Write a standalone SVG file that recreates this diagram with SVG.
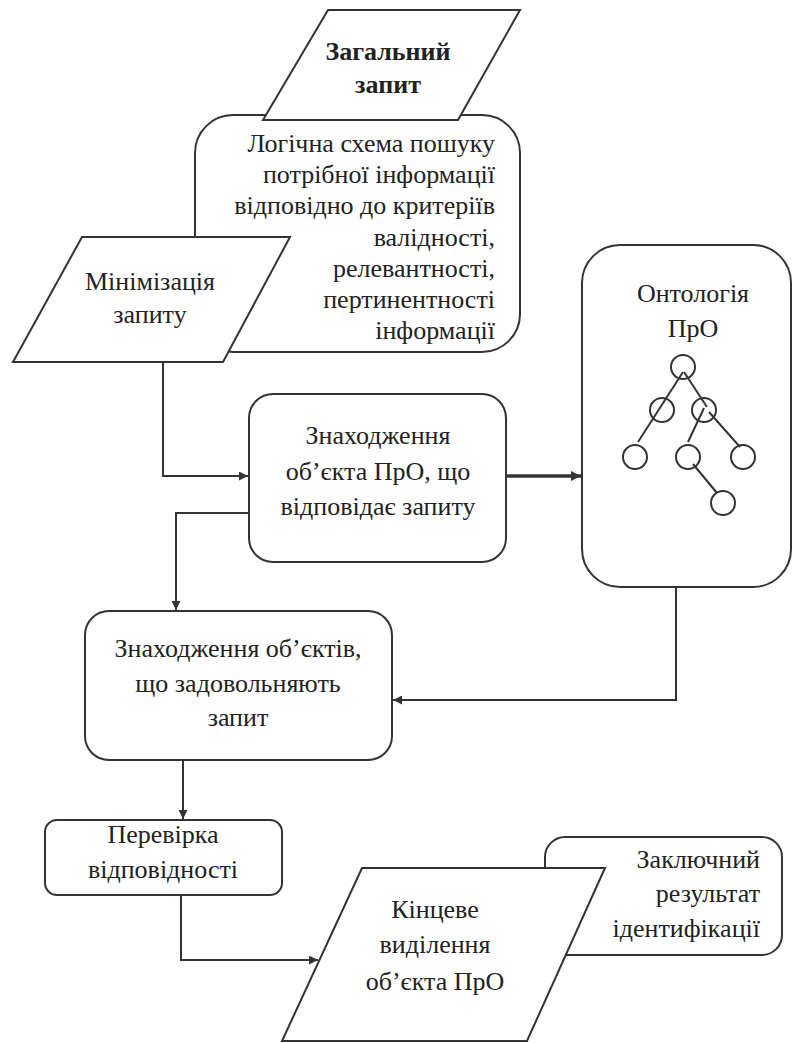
<svg xmlns="http://www.w3.org/2000/svg" width="795" height="1043" viewBox="0 0 795 1043">
<defs>
<marker id="arr" viewBox="0 0 10 10" refX="10" refY="5" markerWidth="10" markerHeight="9" markerUnits="userSpaceOnUse" orient="auto">
<path d="M0,0 L10,5 L0,10 Z" fill="#333"/>
</marker>
<marker id="arrT" viewBox="0 0 10 10" refX="10" refY="5" markerWidth="11" markerHeight="10" markerUnits="userSpaceOnUse" orient="auto">
<path d="M0,0 L10,5 L0,10 Z" fill="#333"/>
</marker>
</defs>

<g id="logic-scheme" font-size="26" fill="#222" text-anchor="end">
<rect x="195" y="115" width="325" height="237" rx="38" fill="#fff" stroke="#333" stroke-width="2"/>
<text x="495" y="152" font-family="Liberation Serif" style="font-family:'Liberation Serif'">Логічна схема пошуку</text>
<text x="495" y="183" font-family="Liberation Serif" style="font-family:'Liberation Serif'">потрібної інформації</text>
<text x="495" y="214" font-family="Liberation Serif" style="font-family:'Liberation Serif'">відповідно до критеріїв</text>
<text x="495" y="246" font-family="Liberation Serif" style="font-family:'Liberation Serif'">валідності,</text>
<text x="495" y="277" font-family="Liberation Serif" style="font-family:'Liberation Serif'">релевантності,</text>
<text x="495" y="308" font-family="Liberation Serif" style="font-family:'Liberation Serif'">пертинентності</text>
<text x="495" y="339" font-family="Liberation Serif" style="font-family:'Liberation Serif'">інформації</text>
</g>

<g id="general-query" font-size="26" font-weight="bold" fill="#222" text-anchor="middle">
<polygon points="328,10 520,10 458,120 263,120" fill="#fff" stroke="#333" stroke-width="2"/>
<text x="388" y="60" font-family="Liberation Serif" style="font-family:'Liberation Serif'">Загальний</text>
<text x="388" y="93" font-family="Liberation Serif" style="font-family:'Liberation Serif'">запит</text>
</g>

<g id="minimization" font-size="26" fill="#222" text-anchor="middle">
<polygon points="82,237 290,237 223,362 13,362" fill="#fff" stroke="#333" stroke-width="2"/>
<text x="150" y="290" font-family="Liberation Serif" style="font-family:'Liberation Serif'">Мінімізація</text>
<text x="150" y="323" font-family="Liberation Serif" style="font-family:'Liberation Serif'">запиту</text>
</g>

<g id="find-object" font-size="26" fill="#222" text-anchor="middle">
<rect x="249" y="394" width="257" height="168" rx="24" fill="#fff" stroke="#333" stroke-width="2"/>
<text x="378" y="444" font-family="Liberation Serif" style="font-family:'Liberation Serif'">Знаходження</text>
<text x="378" y="480" font-family="Liberation Serif" style="font-family:'Liberation Serif'">об’єкта ПрО, що</text>
<text x="378" y="515" font-family="Liberation Serif" style="font-family:'Liberation Serif'">відповідає запиту</text>
</g>

<g id="ontology" font-size="26" fill="#222" text-anchor="middle">
<rect x="582" y="245" width="209" height="342" rx="38" fill="#fff" stroke="#333" stroke-width="2"/>
<text x="693" y="302" font-family="Liberation Serif" style="font-family:'Liberation Serif'">Онтологія</text>
<text x="693" y="337" font-family="Liberation Serif" style="font-family:'Liberation Serif'">ПрО</text>
<g id="tree" stroke="#333" stroke-width="2" fill="none">
<line x1="683" y1="372" x2="638" y2="442"/>
<line x1="684" y1="372" x2="707" y2="407"/>
<line x1="704" y1="408" x2="688" y2="442"/>
<line x1="709" y1="412" x2="740" y2="447"/>
<line x1="693" y1="464" x2="717" y2="493"/>
<circle cx="683" cy="367" r="12"/>
<circle cx="662" cy="410" r="12"/>
<circle cx="704" cy="410" r="12"/>
<circle cx="635" cy="457" r="12"/>
<circle cx="688" cy="457" r="12"/>
<circle cx="743" cy="457" r="12"/>
<circle cx="723" cy="503" r="12"/>
</g>
</g>

<g id="find-objects" font-size="26" fill="#222" text-anchor="middle">
<rect x="85" y="611" width="307" height="149" rx="24" fill="#fff" stroke="#333" stroke-width="2"/>
<text x="238" y="657" font-family="Liberation Serif" style="font-family:'Liberation Serif'">Знаходження об’єктів,</text>
<text x="238" y="692" font-family="Liberation Serif" style="font-family:'Liberation Serif'">що задовольняють</text>
<text x="238" y="726" font-family="Liberation Serif" style="font-family:'Liberation Serif'">запит</text>
</g>

<g id="check" font-size="26" fill="#222" text-anchor="middle">
<rect x="45" y="820" width="237" height="75" rx="12" fill="#fff" stroke="#333" stroke-width="2"/>
<text x="163" y="843" font-family="Liberation Serif" style="font-family:'Liberation Serif'">Перевірка</text>
<text x="163" y="878" font-family="Liberation Serif" style="font-family:'Liberation Serif'">відповідності</text>
</g>

<g id="final-result" font-size="26" fill="#222" text-anchor="end">
<rect x="545" y="837" width="237" height="118" rx="20" fill="#fff" stroke="#333" stroke-width="2"/>
<text x="760" y="868" font-family="Liberation Serif" style="font-family:'Liberation Serif'">Заключний</text>
<text x="760" y="902" font-family="Liberation Serif" style="font-family:'Liberation Serif'">результат</text>
<text x="760" y="937" font-family="Liberation Serif" style="font-family:'Liberation Serif'">ідентифікації</text>
</g>

<g id="final-selection" font-size="26" fill="#222" text-anchor="middle">
<polygon points="362,868 605,868 527,1041 282,1041" fill="#fff" stroke="#333" stroke-width="2"/>
<text x="435" y="918" font-family="Liberation Serif" style="font-family:'Liberation Serif'">Кінцеве</text>
<text x="435" y="953" font-family="Liberation Serif" style="font-family:'Liberation Serif'">виділення</text>
<text x="435" y="990" font-family="Liberation Serif" style="font-family:'Liberation Serif'">об’єкта ПрО</text>
</g>

<g id="connectors" fill="none" stroke="#333" stroke-width="2">
<path d="M163,362 V476 H248" marker-end="url(#arr)"/>
<path d="M506,476 H581" stroke-width="3.5" marker-end="url(#arrT)"/>
<path d="M249,513 H176 V610" marker-end="url(#arr)"/>
<path d="M676,587 V700 H393" marker-end="url(#arr)"/>
<path d="M183,760 V819" marker-end="url(#arr)"/>
<path d="M181,895 V960 H318" marker-end="url(#arr)"/>
</g>
</svg>
